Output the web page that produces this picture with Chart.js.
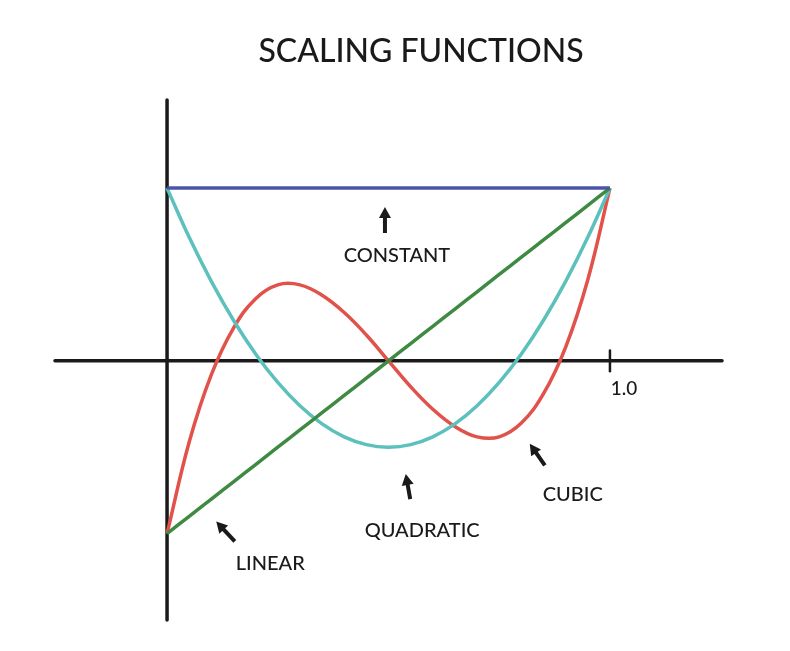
<!DOCTYPE html>
<html>
<head>
<meta charset="utf-8">
<script src="https://cdn.jsdelivr.net/npm/chart.js@4/dist/chart.umd.min.js"></script>
<style>
  html, body { margin: 0; padding: 0; background: #fff; }
  #wrap { width: 790px; height: 651px; }
</style>
</head>
<body>
<div id="wrap"><canvas id="c" width="790" height="651"></canvas></div>
<script>
const xs = [0, 0.05, 0.1, 0.15, 0.2, 0.25, 0.3, 0.35, 0.4, 0.45, 0.5,
            0.55, 0.6, 0.65, 0.7, 0.75, 0.8, 0.85, 0.9, 0.95, 1];
const constant = [1, 1, 1, 1, 1, 1, 1, 1, 1, 1, 1, 1, 1, 1, 1, 1, 1, 1, 1, 1, 1];
const linear = [-1, -0.9, -0.8, -0.7, -0.6, -0.5, -0.4, -0.3, -0.2, -0.1, 0,
                0.1, 0.2, 0.3, 0.4, 0.5, 0.6, 0.7, 0.8, 0.9, 1];
const quadratic = [1, 0.715, 0.46, 0.235, 0.04, -0.125, -0.26, -0.365, -0.44, -0.485, -0.5,
                   -0.485, -0.44, -0.365, -0.26, -0.125, 0.04, 0.235, 0.46, 0.715, 1];
const cubic = [-1, -0.47, -0.08, 0.19, 0.36, 0.44, 0.44, 0.38, 0.28, 0.15, 0,
               -0.15, -0.28, -0.38, -0.44, -0.44, -0.36, -0.19, 0.08, 0.47, 1];

const xTicks = [1.0];
const tickLabels = ['1.0'];
const title = 'SCALING FUNCTIONS';

// annotations: label position, arrow tail, arrow head (data coords)
const notes = [
  { text: 'CONSTANT', at: [0.519, 0.61], from: [0.492, 0.74], to: [0.492, 0.89] },
  { text: 'QUADRATIC', at: [0.576, -0.985], from: [0.549, -0.80], to: [0.539, -0.655] },
  { text: 'CUBIC', at: [0.916, -0.775], from: [0.853, -0.605], to: [0.819, -0.48] },
  { text: 'LINEAR', at: [0.233, -1.175], from: [0.153, -1.045], to: [0.111, -0.93] }
];

const pts = (ys) => xs.map((x, i) => ({ x: x, y: ys[i] }));

const FONT = '"Lato", "DejaVu Sans", sans-serif';

function arrow(ctx, x1, y1, x2, y2) {
  const a = Math.atan2(y2 - y1, x2 - x1);
  const h = 11, w = 6;
  ctx.beginPath();
  ctx.moveTo(x1, y1);
  ctx.lineTo(x2 - Math.cos(a) * h * 0.6, y2 - Math.sin(a) * h * 0.6);
  ctx.stroke();
  ctx.beginPath();
  ctx.moveTo(x2, y2);
  ctx.lineTo(x2 - Math.cos(a) * h + Math.sin(a) * w, y2 - Math.sin(a) * h - Math.cos(a) * w);
  ctx.lineTo(x2 - Math.cos(a) * h - Math.sin(a) * w, y2 - Math.sin(a) * h + Math.cos(a) * w);
  ctx.closePath();
  ctx.fill();
}

const decor = {
  id: 'decor',
  beforeDatasetsDraw(chart) {
    const { ctx, scales: { x, y } } = chart;
    ctx.save();
    ctx.strokeStyle = '#1a1a1a';
    ctx.lineWidth = 3.5;
    ctx.lineCap = 'round';
    // x axis
    ctx.beginPath();
    ctx.moveTo(x.left, y.getPixelForValue(0));
    ctx.lineTo(x.right, y.getPixelForValue(0));
    ctx.stroke();
    // y axis
    ctx.beginPath();
    ctx.moveTo(x.getPixelForValue(0), y.top);
    ctx.lineTo(x.getPixelForValue(0), y.bottom);
    ctx.stroke();
    // ticks
    ctx.lineWidth = 2.5;
    ctx.fillStyle = '#1a1a1a';
    ctx.font = '500 19px ' + FONT;
    ctx.textAlign = 'center';
    ctx.textBaseline = 'middle';
    xTicks.forEach((t, i) => {
      const px = x.getPixelForValue(t);
      ctx.beginPath();
      ctx.moveTo(px, y.getPixelForValue(0.06));
      ctx.lineTo(px, y.getPixelForValue(-0.06));
      ctx.stroke();
      ctx.fillText(tickLabels[i], px + 14, y.getPixelForValue(-0.16));
    });
    ctx.restore();
  },
  afterDatasetsDraw(chart) {
    const { ctx, scales: { x, y } } = chart;
    ctx.save();
    ctx.fillStyle = '#1a1a1a';
    ctx.strokeStyle = '#1a1a1a';
    ctx.lineWidth = 4;
    ctx.lineCap = 'butt';
    ctx.textAlign = 'center';
    ctx.textBaseline = 'middle';
    ctx.font = '500 20px ' + FONT;
    notes.forEach(n => {
      arrow(ctx, x.getPixelForValue(n.from[0]), y.getPixelForValue(n.from[1]),
                 x.getPixelForValue(n.to[0]), y.getPixelForValue(n.to[1]));
      ctx.fillText(n.text, x.getPixelForValue(n.at[0]), y.getPixelForValue(n.at[1]));
    });
    ctx.font = '500 32px ' + FONT;
    ctx.fillText(title, 421, 52);
    ctx.restore();
  }
};

const line = (ys, color) => ({
  data: pts(ys),
  borderColor: color,
  borderWidth: 3.5,
  pointRadius: 0,
  tension: 0.4,
  fill: false
});

new Chart(document.getElementById('c').getContext('2d'), {
  type: 'line',
  data: {
    datasets: [
      line(constant, '#4856a6'),
      line(linear, '#3f8a42'),
      line(quadratic, '#5cc0bd'),
      line(cubic, '#e0524a')
    ]
  },
  options: {
    animation: false,
    responsive: false,
    layout: { padding: { left: 55, right: 68, top: 100, bottom: 31 } },
    scales: {
      x: { type: 'linear', min: -0.253, max: 1.253, display: false },
      y: { type: 'linear', min: -1.5, max: 1.51, display: false }
    },
    plugins: { legend: { display: false }, tooltip: { enabled: false } }
  },
  plugins: [decor]
});
</script>
</body>
</html>
